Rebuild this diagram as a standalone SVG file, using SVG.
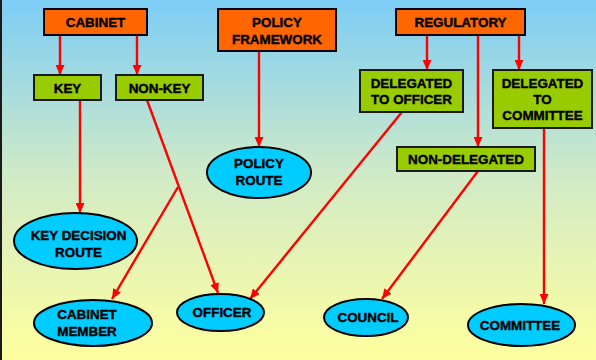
<svg xmlns="http://www.w3.org/2000/svg" width="596" height="360" viewBox="0 0 596 360">
<defs>
<linearGradient id="bg" x1="0" y1="0" x2="0" y2="1">
<stop offset="0" stop-color="#7dcdf5"/>
<stop offset="0.5" stop-color="#d2ebc6"/>
<stop offset="1" stop-color="#ffff9e"/>
</linearGradient>
<marker id="ah" markerUnits="userSpaceOnUse" markerWidth="10" markerHeight="9" refX="10" refY="4.5" orient="auto">
<path d="M0,0 L10,4.5 L0,9 z" fill="#ff0000"/>
</marker>
</defs>
<style>
.org{fill:#ff6600;stroke:#000;stroke-width:2}
.grn{fill:#99cc00;stroke:#1a1a1a;stroke-width:2}
.ell{fill:#00ccff;stroke:#000;stroke-width:2}
text{font-family:"Liberation Sans",Arial,sans-serif;font-weight:bold;font-size:13.4px;fill:#000;stroke:#000;stroke-width:0.4;text-anchor:middle}
.c{fill:none;stroke:#ff0000;stroke-width:2.4}
</style>
<rect x="0" y="0" width="596" height="360" fill="url(#bg)"/>
<rect x="0" y="0" width="2" height="360" fill="#1a1a1a"/>
<g id="connectors">
<line class="c" x1="60" y1="35" x2="60" y2="75" marker-end="url(#ah)"/>
<line class="c" x1="137" y1="35" x2="137" y2="75" marker-end="url(#ah)"/>
<line class="c" x1="259" y1="51" x2="259" y2="147" marker-end="url(#ah)"/>
<line class="c" x1="427" y1="35" x2="427" y2="70" marker-end="url(#ah)"/>
<line class="c" x1="478" y1="35" x2="478" y2="147" marker-end="url(#ah)"/>
<line class="c" x1="519" y1="35" x2="519" y2="70" marker-end="url(#ah)"/>
<line class="c" x1="80" y1="100" x2="80" y2="213" marker-end="url(#ah)"/>
<line class="c" x1="147" y1="100" x2="218" y2="293" marker-end="url(#ah)"/>
<line class="c" x1="178" y1="187" x2="112" y2="299" marker-end="url(#ah)"/>
<line class="c" x1="402" y1="112" x2="250" y2="299" marker-end="url(#ah)"/>
<line class="c" x1="478" y1="171" x2="382" y2="299" marker-end="url(#ah)"/>
<line class="c" x1="544" y1="128" x2="544" y2="304" marker-end="url(#ah)"/>
</g>
<g id="cabinet"><rect class="org" x="44" y="9" width="103" height="26"/><text x="95.5" y="27">CABINET</text></g>
<g id="policy-framework"><rect class="org" x="218" y="9" width="118" height="42"/><text x="277" y="27">POLICY</text><text x="277" y="44">FRAMEWORK</text></g>
<g id="regulatory"><rect class="org" x="396" y="9" width="129" height="26"/><text x="460.5" y="27">REGULATORY</text></g>
<g id="key"><rect class="grn" x="34" y="75" width="67" height="25"/><text x="67.5" y="93">KEY</text></g>
<g id="non-key"><rect class="grn" x="116" y="75" width="87" height="25"/><text x="159.5" y="93">NON-KEY</text></g>
<g id="delegated-officer"><rect class="grn" x="360" y="70" width="103" height="42"/><text x="411.5" y="88">DELEGATED</text><text x="411.5" y="104">TO OFFICER</text></g>
<g id="delegated-committee"><rect class="grn" x="493" y="70" width="99" height="58"/><text x="542.5" y="88">DELEGATED</text><text x="542.5" y="104">TO</text><text x="542.5" y="120">COMMITTEE</text></g>
<g id="non-delegated"><rect class="grn" x="397" y="147" width="138" height="24"/><text x="466" y="164">NON-DELEGATED</text></g>
<g id="policy-route"><ellipse class="ell" cx="259" cy="172.5" rx="52" ry="25.5"/><text x="259" y="168">POLICY</text><text x="259" y="185">ROUTE</text></g>
<g id="key-decision-route"><ellipse class="ell" cx="75.5" cy="241" rx="61.5" ry="28"/><text x="78.5" y="240">KEY DECISION</text><text x="78.5" y="257">ROUTE</text></g>
<g id="cabinet-member"><ellipse class="ell" cx="93" cy="323" rx="59" ry="23"/><text x="87" y="319">CABINET</text><text x="87" y="336">MEMBER</text></g>
<g id="officer"><ellipse class="ell" cx="220.5" cy="312.5" rx="43.5" ry="18.5"/><text x="222" y="317">OFFICER</text></g>
<g id="council"><ellipse class="ell" cx="366" cy="317.5" rx="42" ry="18.5"/><text x="368" y="322">COUNCIL</text></g>
<g id="committee"><ellipse class="ell" cx="521.5" cy="325" rx="53.5" ry="21"/><text x="520" y="330">COMMITTEE</text></g>
</svg>
